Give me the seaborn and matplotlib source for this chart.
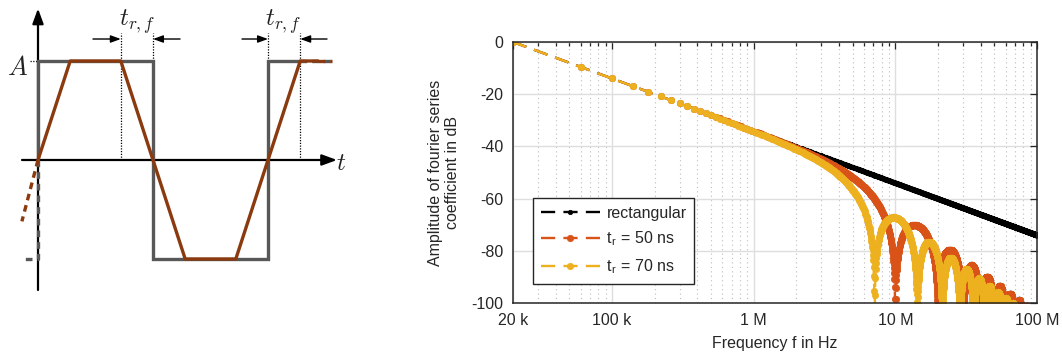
import numpy as np
import pandas as pd
import matplotlib
matplotlib.use("Agg")
import matplotlib.pyplot as plt
from matplotlib.ticker import LogLocator, NullFormatter
import seaborn as sns

# ---------------- data ----------------
# Fourier series of a 50 % duty square / trapezoidal wave
f0_hz = 20e3                                  # fundamental frequency
harmonic_orders = np.arange(1, 5000, 2)       # odd harmonics up to 100 MHz
rise_times_ns = [50, 70]
series_labels = ["rectangular", "t$_\\mathregular{r}$ = 50 ns", "t$_\\mathregular{r}$ = 70 ns"]
series_colors = ["#000000", "#D95319", "#EDB120"]

x_ticks = [2e4, 1e5, 1e6, 1e7, 1e8]
x_tick_labels = ["20 k", "100 k", "1 M", "10 M", "100 M"]
y_ticks = [0, -20, -40, -60, -80, -100]
y_tick_labels = ["0", "-20", "-40", "-60", "-80", "-100"]

# schematic waveform (time in half periods, amplitude in units of A)
rise_frac = 0.28
square_t = [0, 0, 1, 1, 2, 2, 2 + rise_frac]
square_a = [0, 1, 1, -1, -1, 1, 1]
square_dash_t = [[0, 0, -0.14], [2 + rise_frac, 2.56]]
square_dash_a = [[0, -1, -1], [1, 1]]
trap_t = [0, rise_frac, 1 - rise_frac, 1 + rise_frac, 2 - rise_frac, 2 + rise_frac, 2.435]
trap_a = [0, 1, 1, -1, -1, 1, 1]
trap_dash_t = [[0, -0.14], [2.435, 2.56]]
trap_dash_a = [[0, -0.62], [1, 1]]

# ---------------- compute series ----------------
freq = f0_hz * harmonic_orders
rect_db = 20 * np.log10(1.0 / harmonic_orders)
frames = [pd.DataFrame({"f": freq, "dB": rect_db, "series": series_labels[0]})]
for tr, lab in zip(rise_times_ns, series_labels[1:]):
    env = np.abs(np.sinc(2 * tr * 1e-9 * freq))
    db = rect_db + 20 * np.log10(np.maximum(env, 1e-12))
    frames.append(pd.DataFrame({"f": freq, "dB": db, "series": lab}))
df = pd.concat(frames, ignore_index=True)

# ---------------- style ----------------
sns.set_style("white")
plt.rcParams["font.family"] = ["Liberation Sans", "DejaVu Sans"]
plt.rcParams["axes.unicode_minus"] = False
plt.rcParams["mathtext.fontset"] = "cm"

txt = "#262626"
fig = plt.figure(figsize=(10.62, 3.58), dpi=100)

# ---------------- left schematic ----------------
ax0 = fig.add_axes([0, 0, 350 / 1062, 1])
ax0.set_xlim(-0.3304, 2.713)
ax0.set_ylim(-2.0, 1.616)
ax0.axis("off")

gray = "#585858"
brown = "#8A3A0E"
# axes with arrows
ax0.annotate("", xy=(0, 1.53), xytext=(0, -1.313),
             arrowprops=dict(arrowstyle="-|>,head_length=0.9,head_width=0.33", color="black", lw=1.6,
                             shrinkA=0, shrinkB=0), zorder=1)
ax0.annotate("", xy=(2.60, 0), xytext=(-0.139, 0),
             arrowprops=dict(arrowstyle="-|>,head_length=0.9,head_width=0.33", color="black", lw=1.6,
                             shrinkA=0, shrinkB=0), zorder=1)
ax0.plot(square_t, square_a, color=gray, lw=2.4, zorder=2, solid_joinstyle="miter")
for tt, aa in zip(square_dash_t, square_dash_a):
    ax0.plot(tt, aa, color=gray, lw=2.4, ls=(0, (2, 1.5)), zorder=2)
ax0.plot(trap_t, trap_a, color=brown, lw=2.4, zorder=3)
for tt, aa in zip(trap_dash_t, trap_dash_a):
    ax0.plot(tt, aa, color=brown, lw=2.4, ls=(0, (2, 1.5)), zorder=3)

# dotted guides
dot = dict(color="black", lw=0.9, ls=(0, (1, 1.2)), zorder=1)
ax0.plot([1 - rise_frac, 1 - rise_frac], [0, 1.283], **dot)
ax0.plot([1, 1], [1, 1.283], **dot)
ax0.plot([2, 2], [1, 1.283], **dot)
ax0.plot([2 + rise_frac, 2 + rise_frac], [0, 1.283], **dot)
ax0.plot([-0.07, 0], [1, 1], **dot)

arr = dict(arrowstyle="-|>,head_length=0.6,head_width=0.22", color="black", lw=1.0, shrinkA=0, shrinkB=0)
ax0.annotate("", xy=(1 - rise_frac, 1.222), xytext=(0.478, 1.222), arrowprops=arr)
ax0.annotate("", xy=(1, 1.222), xytext=(1.235, 1.222), arrowprops=arr)
ax0.annotate("", xy=(2, 1.222), xytext=(1.774, 1.222), arrowprops=arr)
ax0.annotate("", xy=(2 + rise_frac, 1.222), xytext=(2.513, 1.222), arrowprops=arr)

ax0.text(0.86, 1.354, r"$t_{r,f}$", fontsize=18, ha="center", va="baseline", color="#222222")
ax0.text(2.135, 1.354, r"$t_{r,f}$", fontsize=18, ha="center", va="baseline", color="#222222")
ax0.text(-0.178, 0.86, r"$A$", fontsize=19, ha="center", va="baseline", color="#222222")
ax0.text(2.639, -0.10, r"$t$", fontsize=18, ha="center", va="baseline", color="#222222")

# ---------------- right spectrum ----------------
ax = fig.add_axes([513 / 1062, 55 / 358, 524 / 1062, 261 / 358])
marker_sizes = [3.2, 4.6, 4.6]
for lab, col, ms in zip(series_labels, series_colors, marker_sizes):
    sub = df[df["series"] == lab]
    sns.lineplot(data=sub, x="f", y="dB", ax=ax, color=col, lw=1.7,
                 linestyle=(0, (6, 3.5)), marker="o", markersize=ms,
                 markeredgecolor=col, markerfacecolor=col, markeredgewidth=0.5,
                 estimator=None, sort=False, label=lab)

ax.set_xscale("log")
ax.set_xlim(2e4, 1e8)
ax.set_ylim(-100, 0)
ax.set_xticks(x_ticks)
ax.set_xticklabels(x_tick_labels)
ax.xaxis.set_minor_locator(LogLocator(base=10, subs=np.arange(2, 10), numticks=20))
ax.xaxis.set_minor_formatter(NullFormatter())
ax.set_yticks(y_ticks)
ax.set_yticklabels(y_tick_labels)

ax.grid(True, which="major", color="#dedede", lw=1.0)
ax.grid(True, which="minor", axis="x", color="#bdbdbd", lw=0.8, ls=(0, (1, 3)))
ax.set_axisbelow(True)

for sp in ax.spines.values():
    sp.set_visible(True)
    sp.set_color(txt)
    sp.set_linewidth(1.1)
ax.tick_params(which="both", direction="in", top=True, right=True, colors=txt,
               labelsize=11.5, labelcolor=txt, width=0.9)
ax.tick_params(which="major", length=5, pad=7)
ax.tick_params(which="minor", length=3)

ax.set_xlabel("Frequency f in Hz", fontsize=11.5, color=txt, labelpad=6)
ax.set_ylabel("Amplitude of fourier series\ncoefficient in dB", fontsize=11.5, color=txt, labelpad=8)

leg = ax.legend(loc="lower left", bbox_to_anchor=(0.038, 0.073), borderaxespad=0,
                fontsize=11.5, frameon=True, fancybox=False, framealpha=1,
                edgecolor=txt, handlelength=3.7, handletextpad=0.4,
                labelspacing=0.55, borderpad=0.5)
leg.get_frame().set_linewidth(1.0)
for t in leg.get_texts():
    t.set_color(txt)

fig.savefig("out.png", dpi=100, facecolor="white")
